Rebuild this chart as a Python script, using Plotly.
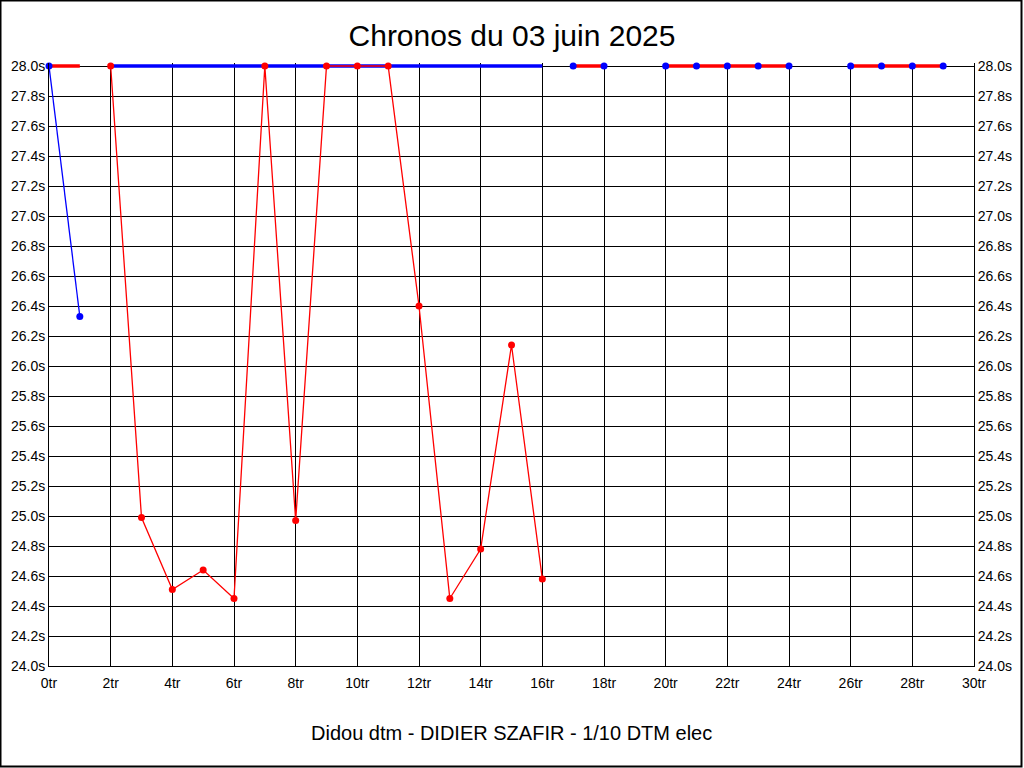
import plotly.graph_objects as go

# ---- data ----
blue_laps = [0, 1]
blue_times = [28.0, 26.33]

red_laps = [2, 3, 4, 5, 6, 7, 8, 9, 10, 11, 12, 13, 14, 15, 16]
red_times = [28.0, 24.99, 24.51, 24.64, 24.45, 28.0, 24.97, 28.0, 28.0, 28.0,
             26.40, 24.45, 24.78, 26.14, 24.58]

# off-scale (no time) segments drawn on the top line
red_cap_laps = [0, 1]
blue_cap_laps = [2, 16]
later_laps = [17, 18, None, 20, 21, 22, 23, 24, None, 26, 27, 28, 29]

title_text = "Chronos du 03 juin 2025"
footer_text = "Didou dtm - DIDIER SZAFIR - 1/10 DTM elec"

x_ticks = list(range(0, 31, 2))
x_labels = [f"{v}tr" for v in x_ticks]
y_ticks = [round(24.0 + 0.2 * i, 1) for i in range(21)]
y_labels = [f"{v:.1f}s" for v in y_ticks]

YMAX = 28.0
RED = "#ff0000"
BLUE = "#0000ff"

# layout geometry (pixels)
W, H = 1024, 768
L, R, B = 49, 50, 102
TOP_PAD = 3                    # small headroom above 28.0 so thick top lines are not clipped
T = 66 - TOP_PAD
PX_PER_S = 150.0
Y_TOP = 28.0 + TOP_PAD / PX_PER_S
PH = H - T - B
PW = W - L - R

fig = go.Figure()

fig.add_trace(go.Scatter(x=red_cap_laps, y=[YMAX] * len(red_cap_laps), mode="lines",
                         line=dict(color=RED, width=3.5), cliponaxis=False, hoverinfo="skip"))
fig.add_trace(go.Scatter(x=blue_cap_laps, y=[YMAX] * len(blue_cap_laps), mode="lines",
                         line=dict(color=BLUE, width=3.5), cliponaxis=False, hoverinfo="skip"))
fig.add_trace(go.Scatter(x=later_laps, y=[None if v is None else YMAX for v in later_laps],
                         mode="lines+markers", connectgaps=False,
                         line=dict(color=RED, width=3.5),
                         marker=dict(color=BLUE, size=7), cliponaxis=False))
fig.add_trace(go.Scatter(x=red_laps, y=red_times, mode="lines+markers",
                         line=dict(color=RED, width=1.3),
                         marker=dict(color=RED, size=7), cliponaxis=False))
fig.add_trace(go.Scatter(x=blue_laps, y=blue_times, mode="lines+markers",
                         line=dict(color=BLUE, width=1.3),
                         marker=dict(color=BLUE, size=7), cliponaxis=False))
# dummy trace for right axis
fig.add_trace(go.Scatter(x=[None], y=[None], yaxis="y2", showlegend=False))

axis_font = dict(family="Liberation Sans, Arial, sans-serif", size=14, color="#000000")

fig.update_layout(
    width=W, height=H,
    margin=dict(l=L, r=R, t=T, b=B, pad=0),
    paper_bgcolor="#ffffff", plot_bgcolor="#ffffff",
    showlegend=False,
    title=dict(text=title_text, x=0.5, xanchor="center", y=1 - 35 / H, yanchor="middle",
               font=dict(family="Liberation Sans, Arial, sans-serif", size=30, color="#000000")),
    xaxis=dict(range=[0, 30], tickvals=x_ticks, ticktext=x_labels, showgrid=True,
               gridcolor="#000000", gridwidth=1, showline=True, linecolor="#000000",
               linewidth=1, mirror=False, zeroline=False,
               ticks="outside", ticklen=4, tickcolor="#ffffff", tickfont=axis_font),
    yaxis=dict(range=[24.0, Y_TOP], tickvals=y_ticks, ticktext=y_labels, showgrid=True,
               gridcolor="#000000", gridwidth=1, showline=True, linecolor="#000000",
               linewidth=1, zeroline=False, ticks="", tickfont=axis_font),
    yaxis2=dict(range=[24.0, Y_TOP], tickvals=y_ticks, ticktext=y_labels, overlaying="y",
                side="right", showgrid=False, showline=True, linecolor="#000000",
                linewidth=1, zeroline=False, ticks="", tickfont=axis_font),
    annotations=[dict(text=footer_text, xref="paper", yref="paper", x=0.5,
                      y=(H - B - 733) / PH, xanchor="center", yanchor="middle",
                      showarrow=False,
                      font=dict(family="Liberation Sans, Arial, sans-serif", size=20,
                                color="#000000"))],
    shapes=[dict(type="rect", xref="paper", yref="paper",
                 x0=(0.5 - L) / PW, x1=(1021.5 - L) / PW,
                 y0=(H - B - 766.5) / PH, y1=(H - B - 0.5) / PH,
                 line=dict(color="#000000", width=2), layer="above")],
)

fig.write_html("out.html", config={"displayModeBar": False},
               post_script="document.body.style.margin='0';")
